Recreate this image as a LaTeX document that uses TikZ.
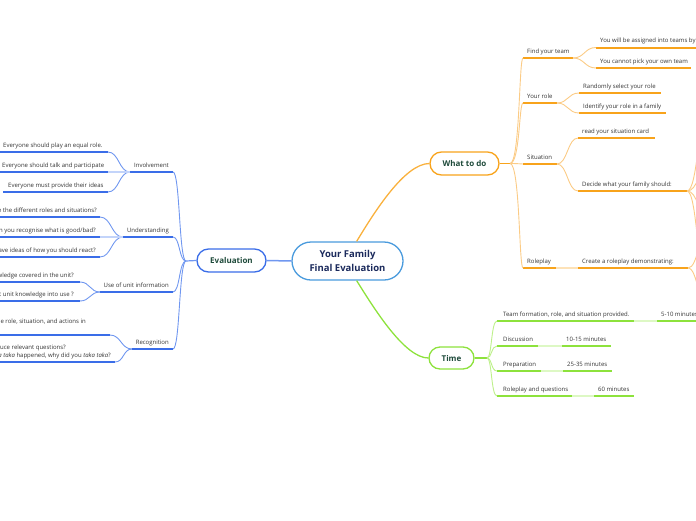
\documentclass[tikz,border=0pt]{standalone}
\usepackage{fontspec}
\setmainfont{Open Sans}
\definecolor{txtgray}{HTML}{333333}
\definecolor{nodegreen}{HTML}{1E4A3A}
\definecolor{navy}{HTML}{1B2A5C}
\definecolor{rootblue}{HTML}{4A9BDD}
\definecolor{bthick}{HTML}{3A6DE8}
\definecolor{bcurve}{HTML}{7097F0}
\definecolor{bpale}{HTML}{C3D4FA}
\definecolor{othick}{HTML}{F8A31B}
\definecolor{ocurve}{HTML}{FBCB85}
\definecolor{opale}{HTML}{FDE2B8}
\definecolor{gthick}{HTML}{8DE23C}
\definecolor{gcurve}{HTML}{BDF08A}
\definecolor{gpale}{HTML}{DDF8C4}
\tikzset{
 txt/.style={font=\fontsize{6}{8.3}\selectfont, text=txtgray, inner sep=0pt},
 ul/.style={line width=2pt},
 crv/.style={line width=0.9pt},
 pale/.style={line width=2pt},
 mainbox/.style={draw, line width=1.3pt, fill=white, rounded corners=11.5pt, minimum height=23pt, inner sep=0pt, font=\bfseries\fontsize{8}{10}\selectfont, text=nodegreen},
 rootbox/.style={draw=rootblue, line width=1.3pt, fill=white, rounded corners=19pt, minimum width=111pt, minimum height=38pt, inner sep=0pt, align=center, font=\bfseries\fontsize{9.5}{13.5}\selectfont, text=navy},
}
\newcommand\mmtopic[8]{%
 \coordinate (#1L) at (#2,#4);
 \coordinate (#1R) at (#3,#4);
 \draw[ul,draw=#8] (#1L) -- (#1R);
 \node[txt,anchor=base #5] (#1) at (#6,#4-5) {#7};}
\begin{document}
\begin{tikzpicture}[x=1pt,y=-1pt]
\useasboundingbox (0,0) rectangle (696,520);
% main nodes
\node[rootbox] (root) at (347.5,261) {Your Family\\Final Evaluation};
\node[mainbox, draw=othick, minimum width=69pt] (wtd) at (464.5,163.5) {What to do};
\node[mainbox, draw=gthick, minimum width=45pt, minimum height=22pt, rounded corners=11pt] (time) at (451.5,358) {Time};
\node[mainbox, draw=bthick, minimum width=69pt] (eval) at (231.5,260.5) {Evaluation};
% root connectors
\draw[line width=1.3pt, draw=othick!85] (root.65) .. controls (375,211) and (405,163.5) .. (wtd.west);
\draw[line width=1.3pt, draw=gthick] (root.-65) .. controls (375,310) and (405,358) .. (time.west);
\draw[line width=1.5pt, draw=bcurve] (root.west) -- (eval.east);

% ---------- Evaluation branch
\mmtopic{inv}{130}{173}{172}{east}{169}{Involvement}{bthick}
\mmtopic{und}{123}{173}{237}{east}{169}{Understanding}{bthick}
\mmtopic{use}{100}{173}{292}{east}{169}{Use of unit information}{bthick}
\mmtopic{rec}{132}{173}{349}{east}{169}{Recognition}{bthick}
\mmtopic{iA}{-5}{108}{152}{west}{3}{Everyone should play an equal role.}{bthick}
\mmtopic{iB}{-5}{108}{172}{west}{2}{Everyone should talk and participate}{bthick}
\mmtopic{iC}{3}{108}{192}{west}{8}{Everyone must provide their ideas}{bthick}
\mmtopic{uA}{-5}{100}{217}{east}{97}{e the different roles and situations?}{bthick}
\mmtopic{uB}{-5}{100}{237}{east}{96}{n you recognise what is good/bad?}{bthick}
\mmtopic{uC}{-5}{100}{257}{east}{96}{ave ideas of how you should react?}{bthick}
\mmtopic{kA}{-5}{80}{282}{east}{74}{wledge covered in the unit?}{bthick}
\mmtopic{kB}{-5}{80}{301}{east}{74}{ut unit knowledge into use ?}{bthick}
\coordinate (rAL) at (-5,335); \coordinate (rAR) at (110,335);
\draw[ul,draw=bthick] (rAL) -- (rAR);
\node[txt,anchor=base east] (rA) at (86,323) {e role, situation, and actions in};
\coordinate (rBL) at (-5,362); \coordinate (rBR) at (115,362);
\draw[ul,draw=bthick] (rBL) -- (rBR);
\node[txt,anchor=base east] (rB) at (66,349) {duce relevant questions?};
\node[txt,anchor=base east] (rB2) at (111,357) {\textit{a taka} happened, why did you \textit{taka taka}?};

\coordinate (ej) at (186,261);
\draw[line width=1.2pt, draw=bcurve] (eval.west) -- (ej);
\foreach \t in {inv,und,use,rec}
  \draw[crv,draw=bcurve] (ej) .. controls +(-7,0) and +(7,0) .. (\t R);
\draw[crv,draw=bcurve] (invL) .. controls +(-11,0) and +(11,0) .. (iAR);
\draw[crv,draw=bcurve] (invL) .. controls +(-11,0) and +(11,0) .. (iCR);
\draw[pale,draw=bpale] (invL) -- (iBR);
\draw[crv,draw=bcurve] (undL) .. controls +(-11.5,0) and +(11.5,0) .. (uAR);
\draw[crv,draw=bcurve] (undL) .. controls +(-11.5,0) and +(11.5,0) .. (uCR);
\draw[pale,draw=bpale] (undL) -- (uBR);
\draw[crv,draw=bcurve] (useL) .. controls +(-10,0) and +(10,0) .. (kAR);
\draw[crv,draw=bcurve] (useL) .. controls +(-10,0) and +(10,0) .. (kBR);
\draw[crv,draw=bcurve] (recL) .. controls +(-11,0) and +(11,0) .. (rAR);
\draw[crv,draw=bcurve] (recL) .. controls +(-9,0) and +(9,0) .. (rBR);

% ---------- What to do branch
\mmtopic{fyt}{523}{573}{58}{west}{527}{Find your team}{othick}
\mmtopic{yr}{523}{557}{103}{west}{527}{Your role}{othick}
\mmtopic{sit}{523}{557}{164}{west}{527}{Situation}{othick}
\mmtopic{rp}{523}{556}{268}{west}{527}{Roleplay}{othick}
\mmtopic{fA}{596}{720}{47.5}{west}{600}{You will be assigned into teams by}{othick}
\mmtopic{fB}{596}{691}{68}{west}{600}{You cannot pick your own team}{othick}
\mmtopic{yA}{579}{661}{93}{west}{583}{Randomly select your role}{othick}
\mmtopic{yB}{579}{666}{113}{west}{583}{Identify your role in a family}{othick}
\mmtopic{sA}{578}{655}{138}{west}{582}{read your situation card}{othick}
\mmtopic{sB}{578}{687}{191}{west}{582}{Decide what your family should:}{othick}
\mmtopic{cA}{578}{688}{268}{west}{582}{Create a roleplay demonstrating:}{othick}

\coordinate (wj) at (510,163.5);
\draw[line width=1.2pt, draw=othick] (wtd.east) -- (wj);
\foreach \t in {fyt,yr,sit,rp}
  \draw[crv,draw=ocurve] (wj) .. controls +(10,0) and +(-4,0) .. (\t L);
\draw[crv,draw=ocurve] (fytR) .. controls +(11.5,0) and +(-11.5,0) .. (fAL);
\draw[crv,draw=ocurve] (fytR) .. controls +(11.5,0) and +(-11.5,0) .. (fBL);
\draw[crv,draw=ocurve] (yrR) .. controls +(11,0) and +(-11,0) .. (yAL);
\draw[crv,draw=ocurve] (yrR) .. controls +(11,0) and +(-11,0) .. (yBL);
\draw[crv,draw=ocurve] (sitR) .. controls +(10.5,0) and +(-10.5,0) .. (sAL);
\draw[crv,draw=ocurve] (sitR) .. controls +(10.5,0) and +(-10.5,0) .. (sBL);
\draw[pale,draw=opale] (rpR) -- (cAL);
\coordinate (dA) at (709,111); \coordinate (dB) at (709,168);
\coordinate (dC) at (709,217); \coordinate (dD) at (709,296);
\foreach \d in {dA,dB,dC,dD}
  \draw[crv,draw=ocurve] (sBR) .. controls +(11,0) and +(-11,0) .. (\d);
\coordinate (eA) at (709,231); \coordinate (eB) at (709,311);
\foreach \d in {eA,eB}
  \draw[crv,draw=ocurve] (cAR) .. controls +(10,0) and +(-10,0) .. (\d);

% ---------- Time branch
\mmtopic{tA}{497}{634}{321}{west}{503}{Team formation, role, and situation provided.}{gthick}
\mmtopic{tAa}{657}{720}{321}{west}{661}{5-10 minutes}{gthick}
\mmtopic{tB}{497}{538}{346}{west}{503}{Discussion}{gthick}
\mmtopic{tBa}{562}{611}{346}{west}{566}{10-15 minutes}{gthick}
\mmtopic{tC}{497}{541}{371}{west}{503}{Preparation}{gthick}
\mmtopic{tCa}{563}{612}{371}{west}{567}{25-35 minutes}{gthick}
\mmtopic{tD}{497}{572}{396}{west}{503}{Roleplay and questions}{gthick}
\mmtopic{tDa}{594}{634}{396}{west}{598}{60 minutes}{gthick}
\coordinate (tj) at (487,358);
\draw[line width=1.2pt, draw=gthick] (time.east) -- (tj);
\foreach \t in {tA,tB,tC,tD}
  \draw[crv,draw=gcurve] (tj) .. controls +(5,0) and +(-6,0) .. (\t L);
\foreach \t in {tA,tB,tC,tD}
  \draw[pale,draw=gpale] (\t R) -- (\t aL);
\end{tikzpicture}
\end{document}
